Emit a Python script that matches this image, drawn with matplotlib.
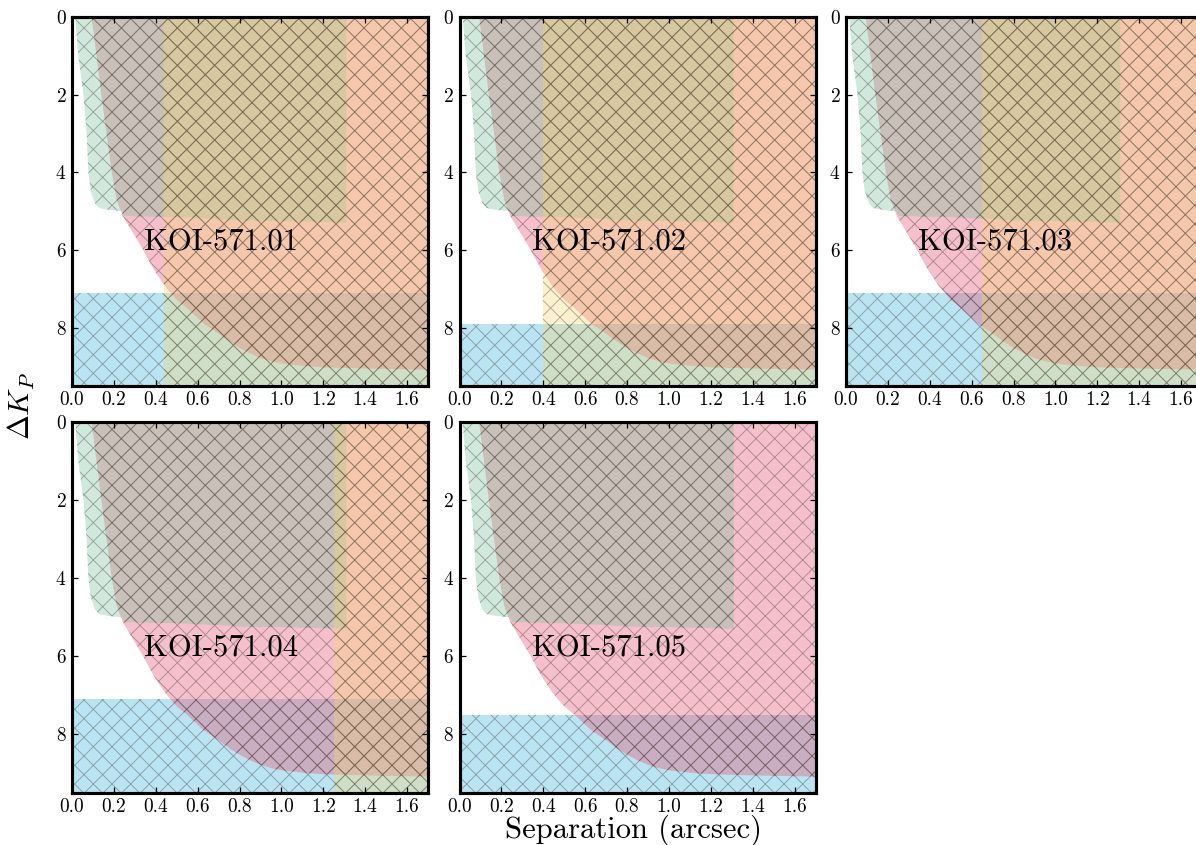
import numpy as np
import matplotlib as mpl

mpl.use('Agg')

import matplotlib.pyplot as plt

DPI = 112.5
k = 90.0 / DPI   # font sizes were tuned at 90 dpi

plt.rcParams['font.family'] = ['cmr10', 'DejaVu Serif']
plt.rcParams['mathtext.fontset'] = 'cm'
plt.rcParams['axes.unicode_minus'] = False
plt.rcParams['axes.formatter.use_mathtext'] = True
plt.rcParams['hatch.color'] = (0.1, 0.08, 0.05, 0.3)
plt.rcParams['hatch.linewidth'] = 0.8 * k

names = ['KOI-571.01', 'KOI-571.02', 'KOI-571.03', 'KOI-571.04', 'KOI-571.05']
# blue band: companions fainter than this are excluded
dk_faint = [7.1, 7.9, 7.1, 7.1, 7.5]
# yellow band: separations beyond this are excluded (None = no limit)
sep_limit = [0.44, 0.40, 0.65, 1.25, None]

# green region: contrast curve, stops at 1.31 arcsec
ao_sep = [0.015, 0.03, 0.055, 0.07, 0.078, 0.09, 0.11, 0.13, 0.18, 0.24, 0.25,
          0.35, 0.5, 0.6, 0.7, 0.8, 0.9, 1.0, 1.1, 1.2, 1.31]
ao_dk = [0.0, 1.0, 2.0, 3.0, 4.0, 4.5, 4.8, 4.92, 4.97, 5.0, 5.12,
         5.14, 5.15, 5.18, 5.2, 5.24, 5.25, 5.25, 5.27, 5.28, 5.3]

# pink region: second curve, whole field
pk_sep = [0.094, 0.14, 0.19, 0.213, 0.242, 0.29, 0.34, 0.39, 0.44, 0.47, 0.5,
          0.55, 0.63, 0.7, 0.75, 0.8, 0.85, 0.9, 0.95, 1.0, 1.1, 1.2, 1.4, 1.7]
pk_dk = [0.0, 2.0, 4.0, 4.7, 5.12, 5.55, 6.0, 6.5, 6.9, 7.1, 7.28,
         7.5, 7.9, 8.15, 8.35, 8.52, 8.66, 8.78, 8.86, 8.92, 8.98, 9.02, 9.05, 9.08]

c_blue = '#3db2da'
c_yellow = '#f5d778'
c_green = '#79c09b'
c_pink = '#e54b6a'
alpha = 0.35

W, H = 1196, 845
fig = plt.figure(figsize=(W / DPI, H / DPI), dpi=DPI)

lefts = [72, 459.5, 846, 72, 459.5]
tops = [17, 17, 17, 422, 422]
bottoms = [386, 386, 386, 793, 793]
width = 356

for i, name in enumerate(names):
    ax = fig.add_axes([lefts[i] / W, 1 - bottoms[i] / H, width / W,
                       (bottoms[i] - tops[i]) / H])
    ax.axhspan(dk_faint[i], 9.5, facecolor=c_blue, alpha=alpha, lw=0, hatch='xx')
    ax.fill_between(pk_sep, 0, pk_dk, facecolor=c_pink, alpha=alpha, lw=0, hatch='xx')
    ax.fill_between(ao_sep, 0, ao_dk, facecolor=c_green, alpha=alpha, lw=0, hatch='xx')
    if sep_limit[i] is not None:
        ax.axvspan(sep_limit[i], 1.7, facecolor=c_yellow, alpha=alpha, lw=0, hatch='xx')
    ax.text(0.345, 5.8, name, fontsize=24.5 * k, va='center', ha='left', zorder=5)

    ax.set_xlim(0, 1.7)
    ax.set_ylim(9.5, 0)
    ax.set_xticks(np.arange(0, 1.61, 0.2))
    ax.set_yticks([0, 2, 4, 6, 8])
    ax.xaxis.set_major_formatter(mpl.ticker.FormatStrFormatter('%.1f'))
    ax.tick_params(direction='in', top=True, right=True, length=5 * k, width=1 * k,
                   labelsize=15.5 * k, pad=3.5 * k / 0.8)
    for s in ax.spines.values():
        s.set_linewidth(2.5 * k)

fig.text(0.018, 0.52, r'$\Delta K_P$', rotation=90, fontsize=24 * k,
         ha='center', va='center')
fig.text(0.530, 0.009, 'Separation (arcsec)', fontsize=24.5 * k, ha='center',
         va='baseline')

fig.savefig('out.png', dpi=DPI)
